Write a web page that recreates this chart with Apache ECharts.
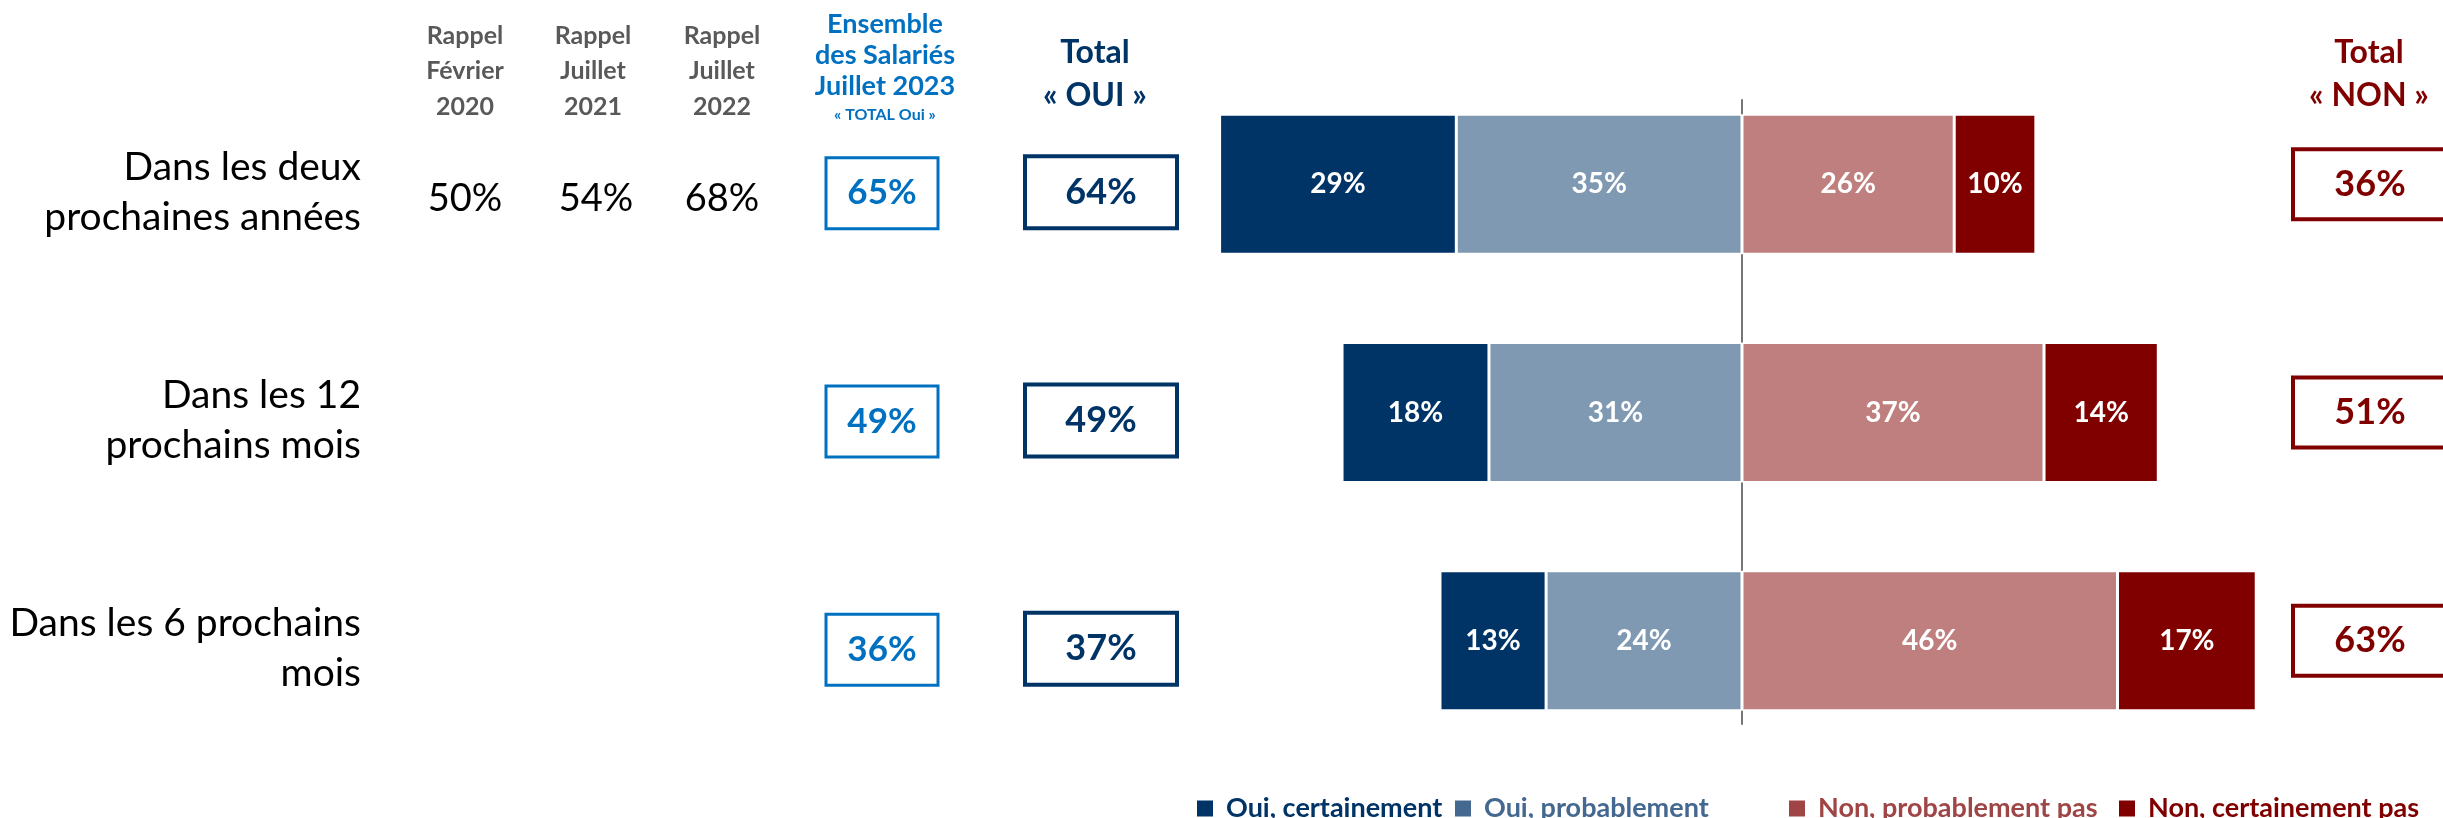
<!DOCTYPE html>
<html>
<head>
<meta charset="utf-8">
<script src="https://cdn.jsdelivr.net/npm/echarts@6/dist/echarts.min.js"></script>
<style>
  html, body { margin: 0; padding: 0; background: #ffffff; }
  #chart { width: 2443px; height: 818px; }
</style>
</head>
<body>
<div id="chart"></div>
<script>
// Survey rows (question horizons)
const categories = ['Dans les deux\nprochaines années', 'Dans les 12\nprochains mois', 'Dans les 6 prochains\nmois'];

// Answer shares, in %
const ouiCertainement = [29, 18, 13];
const ouiProbablement = [35, 31, 24];
const nonProbablement = [26, 37, 46];
const nonCertainement = [10, 14, 17];

// Side columns, in %
const rappelFevrier2020 = [50, null, null];
const rappelJuillet2021 = [54, null, null];
const rappelJuillet2022 = [68, null, null];
const ensembleSalaries2023 = [65, 49, 36];
const totalOui = [64, 49, 37];
const totalNon = [36, 51, 63];

// Texts
const seriesNames = ['Oui, certainement', 'Oui, probablement', 'Non, probablement pas', 'Non, certainement pas'];
const headerRappel2020 = ['Rappel', 'Février', '2020'];
const headerRappel2021 = ['Rappel', 'Juillet', '2021'];
const headerRappel2022 = ['Rappel', 'Juillet', '2022'];
const headerEnsemble = ['Ensemble', 'des Salariés', 'Juillet 2023'];
const headerEnsembleSub = '« TOTAL Oui »';
const headerTotalOui = ['Total', '« OUI »'];
const headerTotalNon = ['Total', '« NON »'];

const FONT = 'Lato, "Open Sans", "DejaVu Sans", sans-serif';
const NAVY = '#003366', MAROON = '#800000', BLUE = '#0070C0', GREY = '#595959';

const chart = echarts.init(document.getElementById('chart'), null, { renderer: 'canvas' });

const rowTop = 70, rowHeight = 685;

// Column layout: centre x, label look
const columns = [
  { values: rappelFevrier2020, cx: 465, offsetY: 15, box: null, color: '#000000', fontSize: 38, bold: false },
  { values: rappelJuillet2021, cx: 596, offsetY: 15, box: null, color: '#000000', fontSize: 38, bold: false },
  { values: rappelJuillet2022, cx: 722, offsetY: 15, box: null, color: '#000000', fontSize: 38, bold: false },
  { values: ensembleSalaries2023, cx: 882, offsetY: 9, box: { w: 109, pad: 13, bw: 3 }, color: BLUE, fontSize: 35, bold: true },
  { values: totalOui, cx: 1101, offsetY: 8, box: { w: 148, pad: 13, bw: 4 }, color: NAVY, fontSize: 36, bold: true },
  { values: totalNon, cx: 2370, offsetY: 0, box: { w: 150, pad: 12, bw: 4 }, color: MAROON, fontSize: 36, bold: true }
];

const grids = [
  { left: 1089, top: rowTop, width: 1306, height: rowHeight },   // diverging bars
  { left: 1089, top: 100, width: 1306, height: 624 },             // zero line
  { left: 363, top: rowTop + 8, width: 1, height: rowHeight }      // row labels
];
const xAxes = [
  { gridIndex: 0, type: 'value', min: -80, max: 80, show: false },
  { gridIndex: 1, type: 'value', min: -80, max: 80, show: false },
  { gridIndex: 2, type: 'value', show: false }
];
const yAxes = [
  { gridIndex: 0, type: 'category', data: categories, inverse: true, show: false },
  {
    gridIndex: 1, type: 'value', min: 0, max: 1,
    axisLine: { show: true, onZero: true, lineStyle: { color: '#767676', width: 2 } },
    axisTick: { show: false }, axisLabel: { show: false }, splitLine: { show: false }
  },
  {
    gridIndex: 2, type: 'category', data: categories, inverse: true,
    axisLine: { show: false }, axisTick: { show: false }, splitLine: { show: false },
    axisLabel: {
      show: true, align: 'right', margin: 2, color: '#000000',
      fontFamily: FONT, fontSize: 39, lineHeight: 50
    }
  }
];

const series = [];

// Stacked diverging bars: "oui" to the left of zero, "non" to the right
const barDefs = [
  { name: seriesNames[1], data: ouiProbablement.map(v => -v), color: '#7F99B2' },
  { name: seriesNames[0], data: ouiCertainement.map(v => -v), color: NAVY },
  { name: seriesNames[2], data: nonProbablement, color: '#BF7F7F' },
  { name: seriesNames[3], data: nonCertainement, color: MAROON }
];
barDefs.forEach(b => {
  series.push({
    type: 'bar', name: b.name, xAxisIndex: 0, yAxisIndex: 0, stack: 'reponses',
    barWidth: 140, data: b.data, silent: true,
    itemStyle: { color: b.color, borderColor: '#ffffff', borderWidth: 1.5 },
    label: {
      show: true, position: 'inside', formatter: p => Math.abs(p.value) + '%',
      color: '#ffffff', fontFamily: FONT, fontWeight: 'bold', fontSize: 28
    }
  });
});

// Side columns drawn as labelled points on their own category axis
columns.forEach(c => {
  const gi = grids.length;
  grids.push({ left: c.cx - 60, top: rowTop, width: 120, height: rowHeight });
  xAxes.push({ gridIndex: gi, type: 'value', min: -1, max: 1, show: false });
  yAxes.push({ gridIndex: gi, type: 'category', data: categories, inverse: true, show: false });
  const label = {
    show: true, position: 'inside', offset: [0, c.offsetY],
    formatter: p => p.value[2] + '%',
    color: c.color, fontFamily: FONT, fontSize: c.fontSize,
    fontWeight: c.bold ? 'bold' : 'normal', align: 'center', verticalAlign: 'middle'
  };
  if (c.box) {
    Object.assign(label, {
      width: c.box.w, lineHeight: 42, padding: [c.box.pad, 0, c.box.pad, 0],
      borderColor: c.color, borderWidth: c.box.bw, backgroundColor: '#ffffff'
    });
  }
  series.push({
    type: 'scatter', xAxisIndex: gi, yAxisIndex: gi, silent: true,
    symbolSize: 1, itemStyle: { color: 'rgba(0,0,0,0)', opacity: 1 },
    data: c.values.map((v, r) => [0, r, v]).filter(d => d[2] != null),
    label
  });
});

// Column headings
const headText = (x, y, lines, color, size, lh) => ({
  type: 'text', x, y, silent: true,
  style: {
    text: lines.join('\n'), fill: color, align: 'center', verticalAlign: 'top',
    fontFamily: FONT, fontWeight: 'bold', fontSize: size, lineHeight: lh
  }
});
const graphics = [
  headText(465, 18, headerRappel2020, GREY, 25, 35.5),
  headText(593, 18, headerRappel2021, GREY, 25, 35.5),
  headText(722, 18, headerRappel2022, GREY, 25, 35.5),
  {
    type: 'text', x: 885, y: 9, silent: true,
    style: {
      text: headerEnsemble.map(t => '{a|' + t + '}').join('\n') + '\n{b|' + headerEnsembleSub + '}',
      align: 'center', verticalAlign: 'top',
      rich: {
        a: { fill: BLUE, fontFamily: FONT, fontWeight: 'bold', fontSize: 27, lineHeight: 31, align: 'center' },
        b: { fill: BLUE, fontFamily: FONT, fontWeight: 'bold', fontSize: 16, lineHeight: 26, align: 'center' }
      }
    }
  },
  headText(1095, 31, headerTotalOui, NAVY, 32, 43),
  headText(2369, 31, headerTotalNon, MAROON, 32, 43)
];

// Legend, one block per answer
const legendDefs = [
  { left: 1197, color: NAVY },
  { left: 1455, color: '#44688F' },
  { left: 1789, color: '#A04545' },
  { left: 2119, color: MAROON }
];
const legends = legendDefs.map((d, k) => ({
  left: d.left, top: 795, padding: 0, icon: 'rect', itemWidth: 16, itemHeight: 16,
  selectedMode: false,
  data: [{ name: seriesNames[k], itemStyle: { color: d.color, borderWidth: 0 }, textStyle: { color: d.color } }],
  textStyle: { fontFamily: FONT, fontWeight: 'bold', fontSize: 27, padding: [0, 0, 0, 8] }
}));

chart.setOption({
  animation: false,
  backgroundColor: '#ffffff',
  grid: grids,
  xAxis: xAxes,
  yAxis: yAxes,
  legend: legends,
  graphic: graphics,
  series
});
</script>
</body>
</html>
